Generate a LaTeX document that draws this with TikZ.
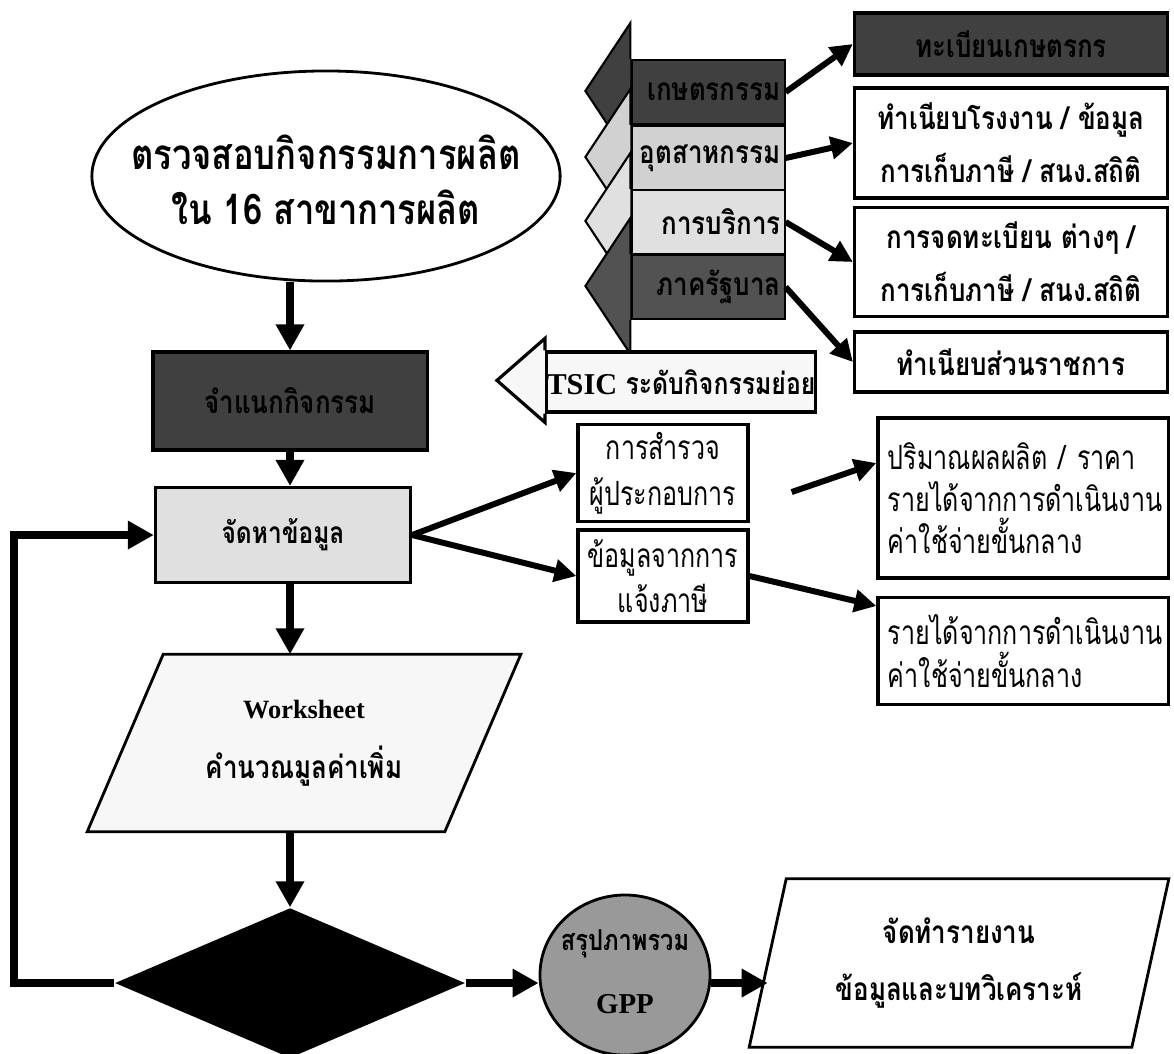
\documentclass[tikz,border=0pt]{standalone}
\usepackage{fontspec}
\setmainfont{Liberation Serif}
\newfontfamily\thaifont[Script=Thai, FakeStretch=0.82]{Loma}
\newfontfamily\thaiflat[Script=Thai, FakeStretch=0.75]{Loma}
\usetikzlibrary{shapes.geometric,arrows.meta,backgrounds}

\begin{document}
\begin{tikzpicture}[x=0.01cm, y=-0.01cm,
    every node/.style={inner sep=0pt, align=center, font=\thaifont\bfseries\fontsize{9}{13}\selectfont},
    title/.style={font=\thaifont\bfseries\fontsize{12}{15.5}\selectfont},
    flat/.style={font=\thaiflat\fontsize{9.5}{12}\selectfont},
    box/.style={draw, line width=0.9pt},
    darkbox/.style={draw, line width=0.9pt, fill=black!75},
    sector/.style={draw, line width=0.6pt, minimum width=1.53cm, minimum height=0.64cm, text width=1.45cm, align=right},
    bigarrow/.style={-{Triangle[length=0.26cm,width=0.27cm]}, line width=0.075cm},
    sidearrow/.style={-{Triangle[length=0.22cm,width=0.22cm]}, line width=0.06cm}]

    \useasboundingbox (0,0) rectangle (1174,1053);

    % main column
    \node[ellipse, draw, line width=0.8pt, minimum width=4.68cm, minimum height=2.1cm] (scan) at (326,176) {};
    \node[title] (scantext) at (326,180) {ตรวจสอบกิจกรรมการผลิต\\ใน 16 สาขาการผลิต};
    \node[darkbox, minimum width=2.74cm, minimum height=0.98cm] (classify) at (290,401) {จำแนกกิจกรรม};
    \node[box, fill=black!12, minimum width=2.55cm, minimum height=0.95cm, font=\thaifont\bfseries\fontsize{8.5}{11}\selectfont] (data) at (283,535) {จัดหาข้อมูล};

    % worksheet (parallelogram drawn round the text)
    \node[minimum width=3.56cm, minimum height=1.76cm] (work) at (304,743)
          {{\rmfamily\fontsize{7.5}{9}\selectfont Worksheet}\\[4pt] คำนวณมูลค่าเพิ่ม};
    \begin{scope}[on background layer]
      \filldraw[line width=0.8pt, fill=black!3] ([xshift=0.38cm]work.north west) -- ([xshift=0.38cm]work.north east)
          -- ([xshift=-0.38cm]work.south east) -- ([xshift=-0.38cm]work.south west) -- cycle;
    \end{scope}

    \node[diamond, fill=black, minimum width=3.5cm, minimum height=1.5cm] (check) at (290,983) {};
    \node[ellipse, draw, line width=0.8pt, fill=black!40, minimum width=1.7cm, minimum height=1.6cm] (gpp) at (625,975) {};
    \node[font=\thaifont\bfseries\fontsize{8.2}{12}\selectfont] (gpptext) at (625,972) {สรุปภาพรวม\\[6pt]{\rmfamily GPP}};

    \node[minimum width=3.81cm, minimum height=1.67cm] (report) at (959,963) {จัดทำรายงาน\\[3pt] ข้อมูลและบทวิเคราะห์};
    \draw[line width=0.8pt] ([xshift=0.185cm]report.north west) -- ([xshift=0.185cm]report.north east)
          -- ([xshift=-0.185cm]report.south east) -- ([xshift=-0.185cm]report.south west) -- cycle;

    % sector arrows
    \node[sector, fill=black!75] (farm) at (708,92) {เกษตรกรรม};
    \filldraw[line width=0.6pt, fill=black!75] (farm.north west) -- ++(0,0.36cm) -- ++(-0.45cm,-0.68cm) -- ++(0.45cm,-0.68cm) -- (farm.south west);
    \node[sector, fill=black!18] (industry) at (708,158) {อุตสาหกรรม};
    \filldraw[line width=0.6pt, fill=black!18] (industry.north west) -- ++(0,0.36cm) -- ++(-0.45cm,-0.68cm) -- ++(0.45cm,-0.68cm) -- (industry.south west);
    \node[sector, fill=black!12] (service) at (708,222) {การบริการ};
    \filldraw[line width=0.6pt, fill=black!12] (service.north west) -- ++(0,0.36cm) -- ++(-0.45cm,-0.68cm) -- ++(0.45cm,-0.68cm) -- (service.south west);
    \node[sector, fill=black!68] (public) at (708,287) {ภาครัฐบาล};
    \filldraw[line width=0.6pt, fill=black!68] (public.north west) -- ++(0,0.36cm) -- ++(-0.45cm,-0.68cm) -- ++(0.45cm,-0.68cm) -- (public.south west);

    % sources
    \node[darkbox, minimum width=3.13cm, minimum height=0.62cm] (farmreg) at (1011,44) {ทะเบียนเกษตรกร};
    \node[box, minimum width=3.13cm, minimum height=1.1cm] (factory) at (1011,143) {ทำเนียบโรงงาน / ข้อมูล\\[2pt]การเก็บภาษี / สนง.สถิติ};
    \node[box, minimum width=3.13cm, minimum height=1.09cm] (register) at (1011,262) {การจดทะเบียน ต่างๆ /\\[2pt]การเก็บภาษี / สนง.สถิติ};
    \node[box, minimum width=3.13cm, minimum height=0.6cm] (govlist) at (1011,362) {ทำเนียบส่วนราชการ};

    \node[box, fill=black!3, minimum width=2.57cm, minimum height=0.6cm, font=\thaifont\bfseries\fontsize{8.6}{12}\selectfont] (tsic) at (681,382) {{\rmfamily TSIC} ระดับกิจกรรมย่อย};
    \filldraw[line width=0.9pt, fill=black!3] (tsic.north west) -- ++(0,0.12cm) -- ++(-0.48cm,-0.42cm) -- ++(0.48cm,-0.42cm) -- (tsic.south west);

    \node[box, flat, minimum width=1.7cm, minimum height=0.97cm] (survey) at (663,473) {การสำรวจ\\[1pt]ผู้ประกอบการ};
    \node[box, flat, minimum width=1.7cm, minimum height=0.92cm] (tax) at (663,576) {ข้อมูลจากการ\\[1pt]แจ้งภาษี};
    \node[box, flat, text width=2.7cm, inner xsep=0.1cm, align=left, minimum height=1.6cm] (output) at (1023,498)
          {ปริมาณผลผลิต / ราคา\\รายได้จากการดำเนินงาน\\ค่าใช้จ่ายขั้นกลาง};
    \node[box, flat, text width=2.7cm, inner xsep=0.1cm, align=left, minimum height=1.07cm] (income) at (1023,651)
          {รายได้จากการดำเนินงาน\\ค่าใช้จ่ายขั้นกลาง};

    % flow
    \draw[bigarrow] (scan.south -| check) -- (classify.north -| check);
    \draw[bigarrow] (classify.south -| check) -- (data.north -| check);
    \draw[bigarrow] (data.south -| check) -- (work.north -| check);
    \draw[bigarrow] (work.south -| check) -- (check.north);
    \draw[bigarrow] (check.west) -- ++(-1.0cm,0) |- (data.west);
    \draw[bigarrow] (check.east) -- (check.east -| gpp.west);
    \draw[bigarrow] (check.east -| gpp.east) -- (check.east -| report.west);

    \draw[sidearrow] (farm.east) -- (farmreg.west);
    \draw[sidearrow] (industry.east) -- (factory.west);
    \draw[sidearrow] (service.east) -- (register.west);
    \draw[sidearrow] (public.east) -- (govlist.west);

    \draw[sidearrow] (data.east) -- (survey.west);
    \draw[sidearrow] (data.east) -- (tax.west);
    \draw[sidearrow] ([xshift=0.42cm,yshift=-0.19cm]survey.east) -- ([yshift=0.35cm]output.west);
    \draw[sidearrow] (tax.east) -- ([yshift=0.45cm]income.west);

\end{tikzpicture}
\end{document}
